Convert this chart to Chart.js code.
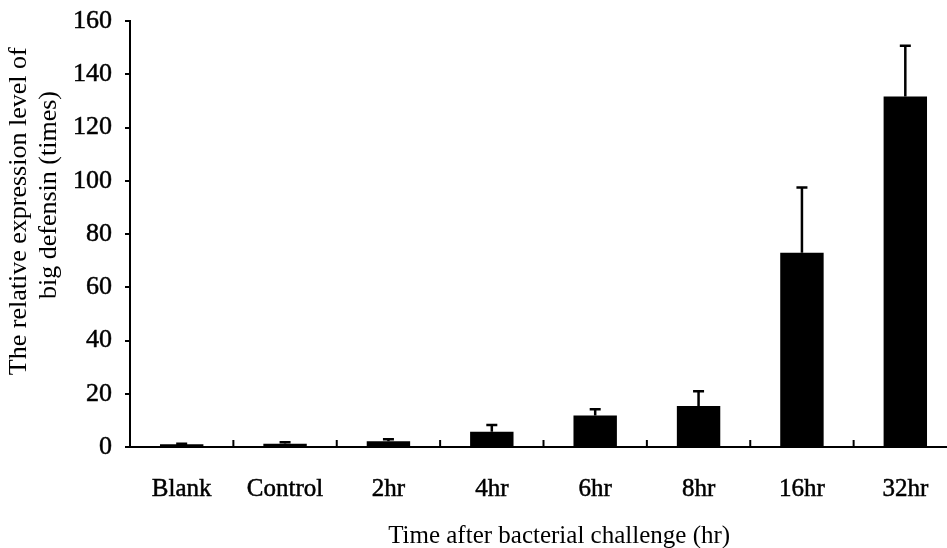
<!DOCTYPE html>
<html>
<head>
<meta charset="utf-8">
<script src="https://cdn.jsdelivr.net/npm/chart.js@4.4.1/dist/chart.umd.min.js"></script>
<style>
    html, body { margin: 0; padding: 0; background: #fff; overflow: hidden; }
    #wrap { width: 960px; height: 551px; }
</style>
</head>
<body>
<div id="wrap"><canvas id="chart" width="960" height="551"></canvas></div>
<script>
// ─── Data ───
const categories = ['Blank', 'Control', '2hr', '4hr', '6hr', '8hr', '16hr', '32hr'];
const expression = [1.0, 1.2, 2.2, 5.7, 11.8, 15.4, 73.0, 131.6];
const errorUpper = [0.2, 0.6, 0.7, 2.6, 2.4, 5.5, 24.5, 19.1];
const yTicks = [0, 20, 40, 60, 80, 100, 120, 140, 160];

const serif = "'Liberation Serif', 'Times New Roman', serif";
const sp = (n) => ' '.repeat(n);

// error bars (upper only) + inward category ticks on x axis
const errorBars = {
    id: 'errorBars',
    afterDatasetsDraw(chart) {
        const { ctx } = chart;
        const x = chart.scales.x;
        const y = chart.scales.y;
        const meta = chart.getDatasetMeta(0);
        ctx.save();
        ctx.strokeStyle = '#000';
        ctx.lineWidth = 2.5;
        meta.data.forEach((bar, i) => {
            if (!errorUpper[i]) return;
            const top = y.getPixelForValue(expression[i] + errorUpper[i]);
            const base = y.getPixelForValue(expression[i]);
            ctx.beginPath();
            ctx.moveTo(bar.x, base);
            ctx.lineTo(bar.x, top);
            ctx.moveTo(bar.x - 5.5, top);
            ctx.lineTo(bar.x + 5.5, top);
            ctx.stroke();
        });
        // category separators pointing up into the plot
        ctx.lineWidth = 2;
        const yb = y.getPixelForValue(0);
        for (let i = 1; i <= categories.length; i++) {
            const px = x.getPixelForValue(i - 0.5);
            ctx.beginPath();
            ctx.moveTo(px, yb);
            ctx.lineTo(px, yb - 7);
            ctx.stroke();
        }
        ctx.restore();
    },
};

new Chart(document.getElementById('chart'), {
    type: 'bar',
    data: {
        labels: categories,
        datasets: [{
            data: expression,
            backgroundColor: '#000',
            borderWidth: 0,
            categoryPercentage: 0.42,
            barPercentage: 1.0,
        }],
    },
    options: {
        responsive: false,
        animation: false,
        layout: { padding: { top: 21, right: 3, left: 5, bottom: 0 } },
        plugins: {
            legend: { display: false },
            tooltip: { enabled: false },
        },
        scales: {
            x: {
                grid: { display: false, drawTicks: false },
                border: { color: '#000', width: 2 },
                ticks: {
                    color: '#000',
                    padding: 27,
                    textStrokeColor: '#000',
                    textStrokeWidth: 0.5,
                    font: { family: serif, size: 25 },
                },
                title: {
                    display: true,
                    text: sp(5) + 'Time after bacterial challenge (hr)',
                    color: '#000',
                    font: { family: serif, size: 25 },
                    padding: { top: 0, bottom: 0 },
                },
                afterFit: (s) => { s.height = 104; s.paddingLeft = 0; s.paddingRight = 0; },
            },
            y: {
                min: 0,
                max: 160,
                afterBuildTicks: (s) => { s.ticks = yTicks.map(v => ({ value: v })); },
                grid: { drawOnChartArea: false, color: '#000', lineWidth: 2, tickLength: 5 },
                border: { color: '#000', width: 2 },
                ticks: {
                    color: '#000',
                    padding: 13,
                    textStrokeColor: '#000',
                    textStrokeWidth: 0.5,
                    font: { family: serif, size: 26 },
                },
                title: {
                    display: true,
                    text: [sp(7) + 'The relative expression level of', sp(12) + 'big defensin (times)'],
                    color: '#000',
                    font: { family: serif, size: 26, lineHeight: 1.12 },
                    padding: { top: 0, bottom: 0 },
                },
                afterFit: (s) => { s.width = 125; s.paddingTop = 0; s.paddingBottom = 0; },
            },
        },
    },
    plugins: [errorBars],
});
</script>
</body>
</html>
